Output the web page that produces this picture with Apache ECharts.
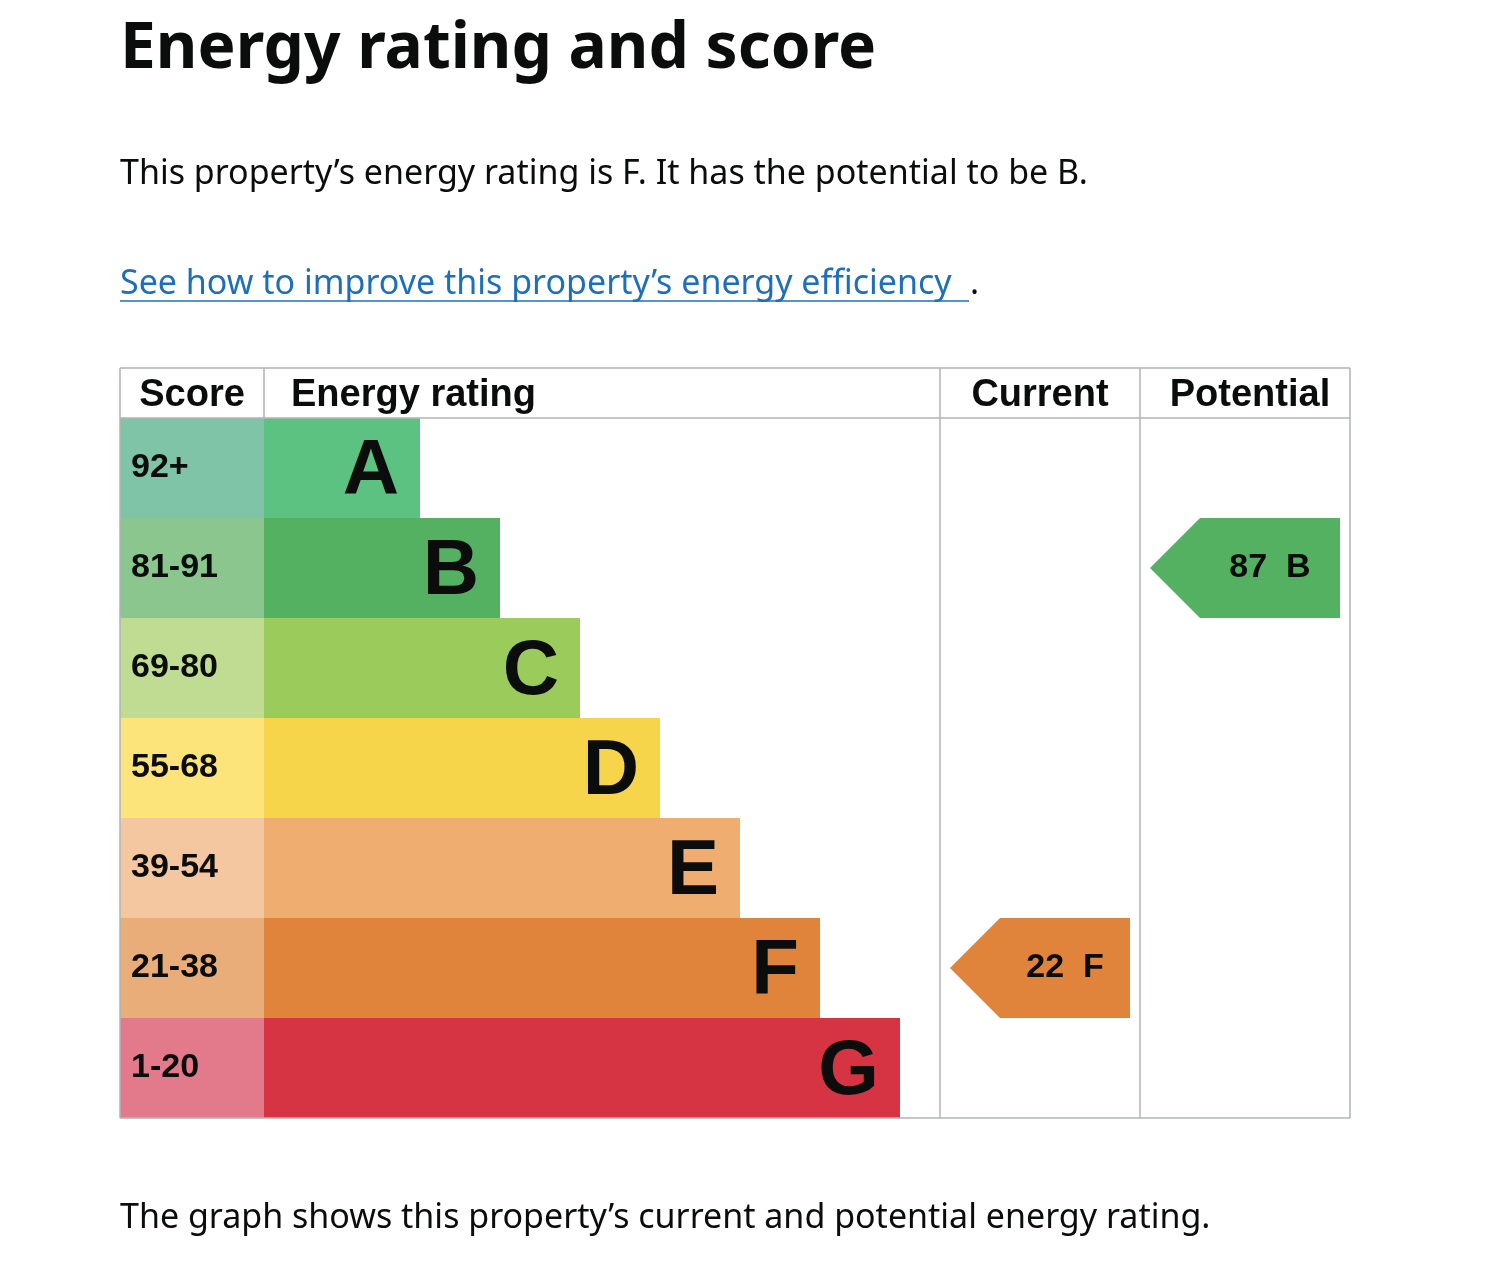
<!DOCTYPE html>
<html><head><meta charset="utf-8">
<script src="https://cdn.jsdelivr.net/npm/echarts@6/dist/echarts.min.js"></script>
<style>html,body{margin:0;padding:0;background:#fff}#c{width:1492px;height:1274px}</style>
</head><body><div id="c"></div>
<script>
const bands = ['A','B','C','D','E','F','G'];
const scoreRanges = ['92+','81-91','69-80','55-68','39-54','21-38','1-20'];
const barLengths = [1.95,2.95,3.95,4.95,5.95,6.95,7.95];
const scoreColors = ['#7fc4a6','#8ac68d','#c0dc92','#fce47a','#f5c7a0','#e8ad79','#e37a8b'];
const bandColors = ['#5bc281','#55b162','#9bcb5b','#f6d54a','#f0ad70','#e0843b','#d63343'];
const current = {score:22, band:'F'};
const potential = {score:87, band:'B'};

const chart = echarts.init(document.getElementById('c'));
const F = 'Liberation Sans, Arial, sans-serif';
const T = 'Noto Sans, Lato, sans-serif';
const gTop = 418, gH = 700;
const grids = [
  {left:120, top:gTop, width:144, height:gH},
  {left:264, top:gTop, width:676, height:gH},
  {left:940, top:gTop, width:200, height:gH},
  {left:1140, top:gTop, width:210, height:gH}
];
const yAxes = grids.map((g,i)=>({gridIndex:i,type:'category',data:bands,inverse:true,show:false}));
const xAxes = [
  {gridIndex:0,type:'value',min:0,max:1,show:false},
  {gridIndex:1,type:'value',min:0,max:8.45,show:false},
  {gridIndex:2,type:'value',min:0,max:1,show:false},
  {gridIndex:3,type:'value',min:0,max:1,show:false}
];
function arrow(item, color){
  return function(params, api){
    const y = api.coord([0, api.value(0)])[1];
    const hh = api.size([0,1])[1];
    const x = params.coordSys.x;
    const w = params.coordSys.width;
    const right = x + w - 10;
    return {type:'group',children:[
      {type:'polygon',shape:{points:[[x+10,y],[x+60,y-hh/2],[right,y-hh/2],[right,y+hh/2],[x+60,y+hh/2]]},style:{fill:color}},
      {type:'text',style:{text:item.score+'  '+item.band,x:(x+60+right)/2,y:y,align:'center',verticalAlign:'middle',font:'bold 34px '+F,fill:'#0b0c0c'}}
    ]};
  };
}
const line = (x1,y1,x2,y2)=>({type:'line',shape:{x1,y1,x2,y2},style:{stroke:'#b1b4b6',lineWidth:1.5},z:10});
const hdr = (text,x,align)=>({type:'text',style:{text,x,y:396,align,verticalAlign:'middle',font:'bold 38px '+F,fill:'#0b0c0c'}});
chart.setOption({
  animation:false,
  grid:grids, xAxis:xAxes, yAxis:yAxes,
  series:[
    {type:'bar',xAxisIndex:0,yAxisIndex:0,barWidth:'100%',data:scoreRanges.map((s,i)=>({value:1,itemStyle:{color:scoreColors[i]},label:{formatter:s}})),
     label:{show:true,position:'insideLeft',offset:[6,0],fontSize:34,fontWeight:'bold',fontFamily:F,color:'#0b0c0c'}},
    {type:'bar',xAxisIndex:1,yAxisIndex:1,barWidth:'100%',data:barLengths.map((v,i)=>({value:v,itemStyle:{color:bandColors[i]}})),
     label:{show:true,position:'insideRight',offset:[-16,4],formatter:p=>bands[p.dataIndex],fontSize:78,fontWeight:'bold',fontFamily:F,color:'#0b0c0c'}},
    {type:'custom',xAxisIndex:2,yAxisIndex:2,renderItem:arrow(current,bandColors[bands.indexOf(current.band)]),data:[[bands.indexOf(current.band)]]},
    {type:'custom',xAxisIndex:3,yAxisIndex:3,renderItem:arrow(potential,bandColors[bands.indexOf(potential.band)]),data:[[bands.indexOf(potential.band)]]}
  ],
  graphic:[
    {type:'text',style:{text:'Energy rating and score',x:120,y:50,verticalAlign:'middle',font:'bold 64px '+T,fill:'#0b0c0c'}},
    {type:'text',style:{text:'This property’s energy rating is F. It has the potential to be B.',x:120,y:174,verticalAlign:'middle',font:'34px '+T,fill:'#0b0c0c'}},
    {type:'text',style:{text:'See how to improve this property’s energy efficiency',x:120,y:284,verticalAlign:'middle',font:'34px '+T,fill:'#1d70b8'}},
    {type:'text',style:{text:'.',x:970,y:284,verticalAlign:'middle',font:'34px '+T,fill:'#0b0c0c'}},
    {type:'line',shape:{x1:120,y1:301,x2:969,y2:301},style:{stroke:'#1d70b8',lineWidth:1.5}},
    {type:'text',style:{text:'The graph shows this property’s current and potential energy rating.',x:120,y:1218,verticalAlign:'middle',font:'34px '+T,fill:'#0b0c0c'}},
    line(120,368,1350,368), line(120,418,1350,418), line(120,1118,1350,1118),
    line(120,368,120,1118), line(1350,368,1350,1118), line(264,368,264,418),
    line(940,368,940,1118), line(1140,368,1140,1118),
    hdr('Score',192,'center'), hdr('Energy rating',291,'left'), hdr('Current',1040,'center'), hdr('Potential',1250,'center')
  ]
});
</script></body></html>
